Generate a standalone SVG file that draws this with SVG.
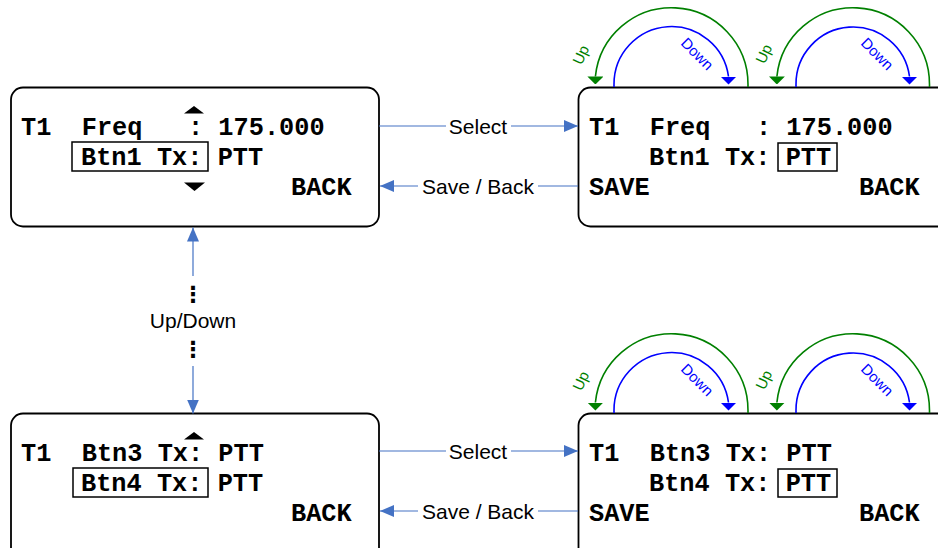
<svg xmlns="http://www.w3.org/2000/svg" width="938" height="548" viewBox="0 0 938 548">
<defs>
<style>
.box{fill:#fff;stroke:#000;stroke-width:1.8}
.sel{fill:none;stroke:#000;stroke-width:1.5}
.mono{font-family:"Liberation Mono","Courier New",monospace;font-weight:bold;font-size:25.3px;fill:#000}
.lbl{font-family:"Liberation Sans",Arial,sans-serif;font-size:21px;fill:#000}
.dots{font-family:"DejaVu Sans",sans-serif;font-weight:bold;font-size:22px;fill:#000}
.con{fill:none;stroke:#4472C4;stroke-width:1.2}
.tri{fill:#000}
.up{fill:none;stroke:#008000;stroke-width:1.6}
.dn{fill:none;stroke:#0000FF;stroke-width:1.6}
.upt{font-family:"Liberation Sans",Arial,sans-serif;font-size:15px;fill:#008000}
.dnt{font-family:"Liberation Sans",Arial,sans-serif;font-size:15px;fill:#0000FF}
</style>
<marker id="ca" viewBox="0 0 14 12" refX="14" refY="6" markerWidth="14" markerHeight="12" markerUnits="userSpaceOnUse" orient="auto-start-reverse">
<path d="M0,0 L14,6 L0,12 z" fill="#4472C4"/>
</marker>
<marker id="ga" viewBox="0 0 8 16" refX="0" refY="8" markerWidth="8" markerHeight="16" markerUnits="userSpaceOnUse" orient="90">
<path d="M0,0 L8,8 L0,16 z" fill="#008000"/>
</marker>
<marker id="ba" viewBox="0 0 8 16" refX="0" refY="8" markerWidth="8" markerHeight="16" markerUnits="userSpaceOnUse" orient="90">
<path d="M0,0 L8,8 L0,16 z" fill="#0000FF"/>
</marker>
<g id="arcs">
<path class="up" d="M748,87 L748,84.5 A76.5,76.5 0 0 0 595.4,76.5" marker-end="url(#ga)"/>
<path class="dn" d="M614,87 L614,84.5 A57.5,57.5 0 0 1 728.5,76.5" marker-end="url(#ba)"/>
<text class="upt" transform="translate(581,55) rotate(-65)" text-anchor="middle" dy="5">Up</text>
<text class="dnt" transform="translate(697,54) rotate(45)" text-anchor="middle" dy="5">Down</text>
<path class="up" d="M929.5,87 L929.5,84.5 A76.5,76.5 0 0 0 776.9,76.5" marker-end="url(#ga)"/>
<path class="dn" d="M796,87 L796,84.5 A57,57 0 0 1 909.5,76.5" marker-end="url(#ba)"/>
<text class="upt" transform="translate(764,54) rotate(-65)" text-anchor="middle" dy="5">Up</text>
<text class="dnt" transform="translate(877,54) rotate(45)" text-anchor="middle" dy="5">Down</text>
</g>
</defs>

<g id="node-main-freq">
<rect class="box" x="11" y="87.5" width="368" height="139" rx="12"/>
<polygon class="tri" points="184,113.5 204,113.5 194,106"/>
<text class="mono" x="21" y="135" xml:space="preserve">T1  Freq   : 175.000</text>
<rect class="sel" x="72" y="142" width="136" height="29"/>
<text class="mono" x="81" y="165" xml:space="preserve">Btn1 Tx: PTT</text>
<polygon class="tri" points="184,182.5 205,182.5 194.5,191"/>
<text class="mono" x="291" y="195">BACK</text>
</g>

<g id="node-edit-btn1">
<rect class="box" x="578.5" y="87.5" width="400" height="139" rx="12"/>
<text class="mono" x="589" y="135" xml:space="preserve">T1  Freq   : 175.000</text>
<text class="mono" x="649" y="165" xml:space="preserve">Btn1 Tx: PTT</text>
<rect class="sel" x="778" y="143" width="59" height="28"/>
<text class="mono" x="589" y="195">SAVE</text>
<text class="mono" x="859" y="195">BACK</text>
<use href="#arcs"/>
</g>

<g id="node-main-btn4">
<rect class="box" x="11" y="413.5" width="368" height="200" rx="12"/>
<polygon class="tri" points="184,439.5 204,439.5 194,432"/>
<text class="mono" x="21" y="461" xml:space="preserve">T1  Btn3 Tx: PTT</text>
<rect class="sel" x="73" y="468" width="135" height="29"/>
<text class="mono" x="81" y="491" xml:space="preserve">Btn4 Tx: PTT</text>
<text class="mono" x="291" y="521">BACK</text>
</g>

<g id="node-edit-btn4">
<rect class="box" x="578.5" y="413.5" width="400" height="200" rx="12"/>
<text class="mono" x="589" y="461" xml:space="preserve">T1  Btn3 Tx: PTT</text>
<text class="mono" x="649" y="491" xml:space="preserve">Btn4 Tx: PTT</text>
<rect class="sel" x="778" y="469" width="59" height="28"/>
<text class="mono" x="589" y="521">SAVE</text>
<text class="mono" x="859" y="521">BACK</text>
<use href="#arcs" transform="translate(0,326)"/>
</g>

<g id="connectors">
<path class="con" d="M379,126 L578,126" marker-end="url(#ca)"/>
<rect x="446" y="114" width="65" height="24" fill="#fff"/>
<text class="lbl" x="478" y="133.5" text-anchor="middle">Select</text>
<path class="con" d="M578,186 L380,186" marker-end="url(#ca)"/>
<rect x="418" y="174" width="120" height="24" fill="#fff"/>
<text class="lbl" x="478" y="193.5" text-anchor="middle">Save / Back</text>

<path class="con" d="M379,451 L578,451" marker-end="url(#ca)"/>
<rect x="446" y="439" width="65" height="24" fill="#fff"/>
<text class="lbl" x="478" y="458.5" text-anchor="middle">Select</text>
<path class="con" d="M578,511 L380,511" marker-end="url(#ca)"/>
<rect x="418" y="499" width="120" height="24" fill="#fff"/>
<text class="lbl" x="478" y="518.5" text-anchor="middle">Save / Back</text>

<path class="con" d="M193,413.5 L193,227.5" marker-start="url(#ca)" marker-end="url(#ca)"/>
<rect x="140" y="276" width="100" height="90" fill="#fff"/>
<text class="dots" x="193" y="302" text-anchor="middle">⋮</text>
<text class="lbl" x="193" y="327.5" text-anchor="middle">Up/Down</text>
<text class="dots" x="193" y="357" text-anchor="middle">⋮</text>
</g>
</svg>
